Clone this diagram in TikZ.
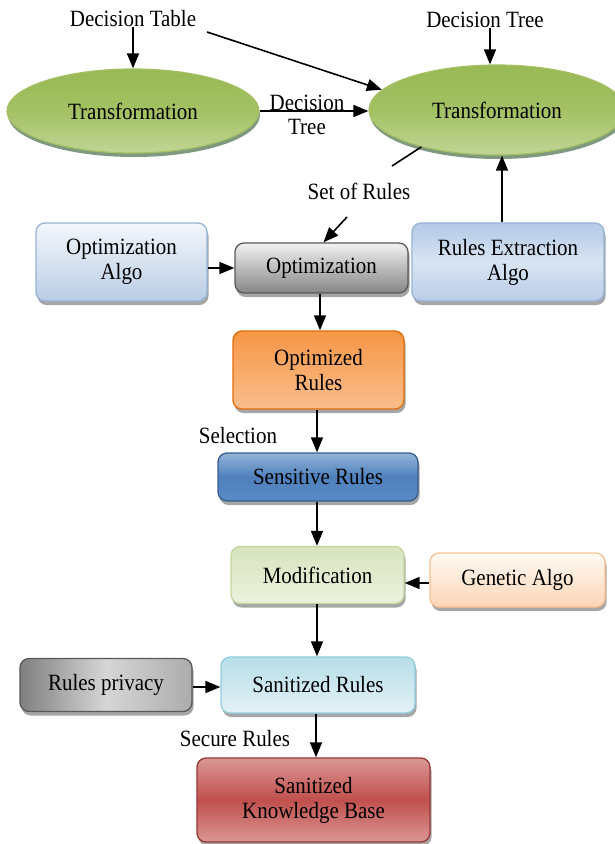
\documentclass[tikz,border=0pt]{standalone}
\usepackage{fontspec}
\setmainfont{Liberation Serif}[FakeStretch=0.9]
\usetikzlibrary{shadows,arrows.meta,shapes.geometric}
\definecolor{ellT}{HTML}{98B954}
\definecolor{ellM}{HTML}{A3C163}
\definecolor{ellB}{HTML}{C0D596}
\definecolor{ellD}{HTML}{A4C063}
\definecolor{lbT}{HTML}{F4F7FC}
\definecolor{lbB}{HTML}{B9CDE5}
\definecolor{lbD}{HTML}{95B3D7}
\definecolor{gyT}{HTML}{F2F2F2}
\definecolor{gyB}{HTML}{858585}
\definecolor{gyD}{HTML}{595959}
\definecolor{rpL}{HTML}{7F7F7F}
\definecolor{rpM}{HTML}{D6D6D6}
\definecolor{rpR}{HTML}{ABABAB}
\definecolor{rbT}{HTML}{B3C9E6}
\definecolor{rbM}{HTML}{D8E4F2}
\definecolor{rbB}{HTML}{B9CDE7}
\definecolor{orT}{HTML}{F79646}
\definecolor{orB}{HTML}{F9BE8C}
\definecolor{orD}{HTML}{E46C0A}
\definecolor{sbT}{HTML}{95B3D7}
\definecolor{sbM}{HTML}{4F81BD}
\definecolor{sbB}{HTML}{5A8AC6}
\definecolor{sbD}{HTML}{385D8A}
\definecolor{mgT}{HTML}{D7E4BD}
\definecolor{mgB}{HTML}{EBF1DE}
\definecolor{mgD}{HTML}{C3D69B}
\definecolor{peT}{HTML}{FFFAF5}
\definecolor{peB}{HTML}{FCD5B5}
\definecolor{peD}{HTML}{FAC090}
\definecolor{cyT}{HTML}{B7DEE8}
\definecolor{cyB}{HTML}{E2F1F6}
\definecolor{cyD}{HTML}{93CDDD}
\definecolor{rdT}{HTML}{DA9795}
\definecolor{rdM}{HTML}{C0504D}
\definecolor{rdD}{HTML}{953735}
\tikzset{
  txt/.style={font=\fontsize{23.3}{25}\selectfont, align=center, inner sep=0pt},
  box/.style={txt, draw, rounded corners=9pt, line width=1.3pt,
    drop shadow={shadow xshift=1.5pt, shadow yshift=-4pt, opacity=0.35, fill=black}},
  ell/.style={txt, ellipse, draw=ellD, line width=1.2pt, top color=ellT, bottom color=ellB, middle color=ellM,
    drop shadow={shadow xshift=1pt, shadow yshift=-4pt, opacity=0.5, fill=black!80!green}},
  arr/.style={-{Triangle[length=15pt,width=12pt]}, line width=1.6pt},
  ln/.style={line width=1.6pt}
}
\begin{document}
\begin{tikzpicture}[x=1pt,y=-1pt]
\useasboundingbox (0,0) rectangle (615,844);
% labels
\node[txt] (dtab) at (133,19) {Decision Table};
\node[txt] (dtree) at (485,20) {Decision Tree};
\node[txt] (sor) at (359,191) {Set of Rules};
\node[txt] (sel) at (238,436) {Selection};
\node[txt] (sec) at (235,739) {Secure Rules};
% ellipses
\node[ell, minimum width=252pt, minimum height=84pt] (e1) at (133,111) {Transformation};
\node[ell, minimum width=256pt, minimum height=90pt] (e2) at (497,110) {Transformation};
\node[txt] (mid) at (307,115) {Decision\\[-1pt]Tree};
% boxes
\node[box, draw=lbD, top color=lbT, bottom color=lbB, minimum width=171pt, minimum height=78pt] (oa) at (121.5,262) {Optimization\\Algo};
\node[box, draw=gyD, top color=gyT, bottom color=gyB, minimum width=173pt, minimum height=50pt] (op) at (321.5,268) {Optimization};
\node[box, draw=lbD, top color=rbT, bottom color=rbB, middle color=rbM, minimum width=192pt, minimum height=78pt] (re) at (508,262) {Rules Extraction\\Algo};
\node[box, draw=orD, top color=orT, bottom color=orB, minimum width=171pt, minimum height=78pt] (or) at (318.5,370) {Optimized\\Rules};
\node[box, draw=sbD, top color=sbT, bottom color=sbB, middle color=sbM, minimum width=200pt, minimum height=48pt] (sr) at (318,477) {Sensitive Rules};
\node[box, draw=mgD, top color=mgT, bottom color=mgB, minimum width=173pt, minimum height=57pt] (mo) at (317.5,575) {Modification};
\node[box, draw=peD, top color=peT, bottom color=peB, minimum width=175pt, minimum height=54pt] (ga) at (517.5,580) {Genetic Algo};
\node[box, draw=cyD, top color=cyT, bottom color=cyB, minimum width=194pt, minimum height=56pt] (sn) at (318,685) {Sanitized Rules};
\node[box, draw=gyD, left color=rpL, right color=rpR, middle color=rpM, minimum width=172pt, minimum height=53pt] (rp) at (106,685) {Rules privacy};
\node[box, draw=rdD, top color=rdT, bottom color=rdT, middle color=rdM, minimum width=233pt, minimum height=84pt] (kb) at (313.5,800) {Sanitized\\Knowledge Base};
% connectors
\coordinate (dtabS) at (207,32);
\coordinate (sorA) at (392,166);
\coordinate (sorB) at (347,217);
\draw[arr] (dtab.south) -- (dtab.south |- e1.north);
\draw[arr] (dtabS) -- (e2.170);
\draw[arr] ([xshift=5pt]dtree.south) -- ([xshift=5pt]dtree.south |- e2.north);
\draw[arr] (e1.east) -- (e2.west |- e1.east);
\draw[ln] (e2.206) -- (sorA);
\draw[arr] (sorB) -- ([xshift=2pt]op.north);
\draw[arr] (re.north -| 502,0) -- (e2.south -| 502,0);
\draw[arr] (oa.east |- op.west) -- (op.west);
\draw[arr] (op.south -| 320,0) -- (or.north -| 320,0);
\draw[arr] (or.south -| 317,0) -- (sr.north -| 317,0);
\draw[arr] (sr.south -| 317,0) -- (mo.north -| 317,0);
\draw[arr] (ga.west |- 0,583) -- (mo.east |- 0,583);
\draw[arr] (mo.south -| 317,0) -- (sn.north -| 317,0);
\draw[arr] (rp.east |- 0,687) -- (sn.west |- 0,687);
\draw[arr] (sn.south -| 316,0) -- (kb.north -| 316,0);
\end{tikzpicture}
\end{document}
